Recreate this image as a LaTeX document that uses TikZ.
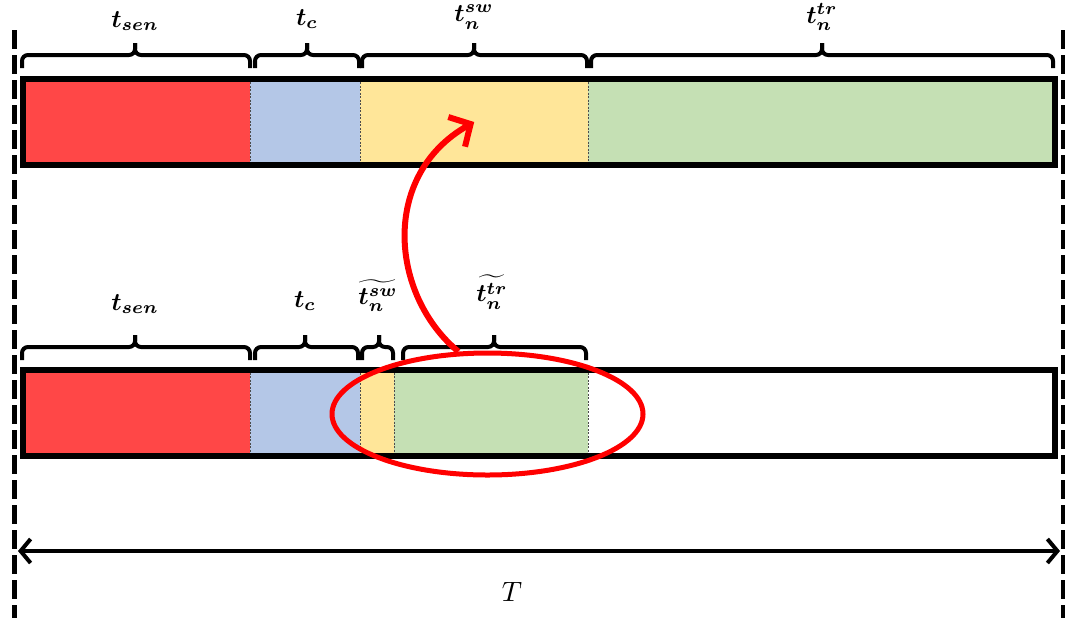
\documentclass[tikz,border=0pt]{standalone}
\usepackage{amsmath}
\usetikzlibrary{arrows.meta,shapes.geometric}
\definecolor{segred}{RGB}{255,71,71}
\definecolor{segblue}{RGB}{180,199,231}
\definecolor{segyellow}{RGB}{255,230,153}
\definecolor{seggreen}{RGB}{197,224,180}
\tikzset{
  seg/.style={draw=none, inner sep=0pt, minimum height=86pt, anchor=west},
  sep/.style={draw=black!70, line width=0.7pt, dash pattern=on 2pt off 1.5pt},
  barframe/.style={draw=black, line width=6pt},
  brc/.style={draw=black, line width=4pt, rounded corners=6pt},
  lbl/.style={inner sep=0pt, scale=2.5, font=\boldmath},
  bound/.style={draw=black, line width=4.5pt, dash pattern=on 19pt off 6pt},
  hilite/.style={draw=red, line width=5pt, ellipse, inner sep=0pt},
}
% curly brace: left end, tip, right end, height of the horizontal stroke
\newcommand\timebrace[4]{%
  \draw[brc] (#1,#4+13) -- (#1,#4) -- (#2,#4) -- (#2,#4-12);
  \draw[brc] (#2,#4-12) -- (#2,#4) -- (#3,#4) -- (#3,#4+13);}
\begin{document}
\begin{tikzpicture}[x=1pt,y=-1pt]
\useasboundingbox (0,0) rectangle (1067,622);

% ---- upper frame: full time slot ----
\node[seg, fill=segred,    minimum width=227pt] (ua) at (23,122) {};
\node[seg, fill=segblue,   minimum width=110pt] (ub) at (250,122) {};
\node[seg, fill=segyellow, minimum width=228pt] (uc) at (360,122) {};
\node[seg, fill=seggreen,  minimum width=467pt] (ud) at (588,122) {};
\draw[sep] (ub.north west) -- (ub.south west);
\draw[sep] (uc.north west) -- (uc.south west);
\draw[sep] (ud.north west) -- (ud.south west);
\draw[barframe] (23,79) rectangle (1055,165);

% ---- lower frame: shortened switching and transmission ----
\node[seg, fill=segred,    minimum width=227pt] (la) at (23,412.5) {};
\node[seg, fill=segblue,   minimum width=110pt] (lb) at (250,412.5) {};
\node[seg, fill=segyellow, minimum width=34pt]  (lc) at (360,412.5) {};
\node[seg, fill=seggreen,  minimum width=194pt] (ld) at (394,412.5) {};
\draw[sep] (lb.north west) -- (lb.south west);
\draw[sep] (lc.north west) -- (lc.south west);
\draw[sep] (ld.north west) -- (ld.south west);
\draw[sep] (ld.north east) -- (ld.south east);
\draw[barframe] (23,369.5) rectangle (1055,455.5);

% ---- braces and labels, upper row ----
\timebrace{22}{135}{250}{55}
\timebrace{255}{307}{359}{55}
\timebrace{362}{474}{587}{55}
\timebrace{591}{822}{1053}{55}
\node[lbl] (l1) at (135,21) {$t_{sen}$};
\node[lbl] (l2) at (307,19) {$t_{c}$};
\node[lbl] (l3) at (474,17) {$t_{n}^{sw}$};
\node[lbl] (l4) at (822,17) {$t_{n}^{tr}$};

% ---- braces and labels, lower row ----
\timebrace{22}{135}{250}{347}
\timebrace{255}{305}{358}{347}
\timebrace{362}{379}{393}{347}
\timebrace{403}{494}{586}{347}
\node[lbl] (m1) at (135,304) {$t_{sen}$};
\node[lbl] (m2) at (305,301) {$t_{c}$};
\node[lbl] (m3) at (378,296) {$\widetilde{t_{n}^{sw}}$};
\node[lbl] (m4) at (492,292) {$\widetilde{t_{n}^{tr}}$};

% ---- highlight and mapping arrow ----
\node[hilite, minimum width=311pt, minimum height=122pt] (hl) at (487.5,414) {};
\draw[red, line width=6pt, -{Straight Barb[length=16pt,width=34pt]}]
  (hl.115) .. controls (390,295) and (380,175) .. (uc.center);

% ---- period boundaries and duration ----
\coordinate (bl0) at (14.5,30);
\coordinate (bl1) at (14.5,618);
\coordinate (br0) at (1063,30);
\coordinate (br1) at (1063,618);
\draw[bound] (bl0) -- (bl1);
\draw[bound] (br0) -- (br1);
\coordinate (TL) at (18,551);
\coordinate (TR) at (1060,551);
\draw[line width=4pt, {Straight Barb[length=10pt,width=24pt]}-{Straight Barb[length=10pt,width=24pt]}] (TL) -- (TR);
\node[inner sep=0pt, scale=2.8] (Tl) at (512,592) {$T$};
\end{tikzpicture}
\end{document}
